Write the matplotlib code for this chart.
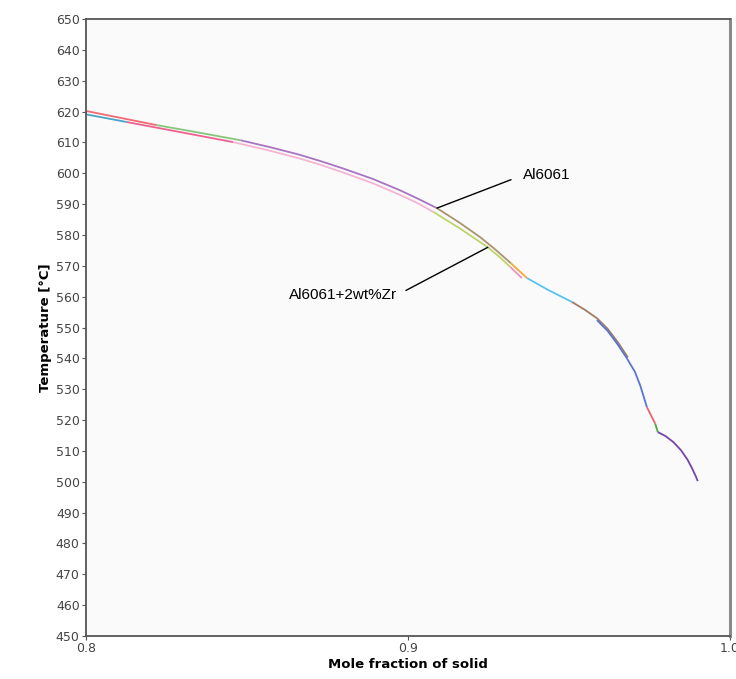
import matplotlib
matplotlib.use("Agg")
import matplotlib.pyplot as plt
import numpy as np

plt.rcParams["font.family"] = "DejaVu Sans"

# Al6061 solidification path (upper curve)
al_x = [0.800, 0.811, 0.822, 0.835, 0.848, 0.857, 0.866, 0.873, 0.880,
        0.889, 0.8975, 0.903, 0.909, 0.916, 0.9224, 0.927, 0.932, 0.937]
al_T = [620.2, 617.9, 615.6, 613.2, 610.7, 608.5, 606.1, 603.9, 601.5,
        598.2, 594.5, 591.8, 588.7, 584.0, 579.3, 575.4, 570.8, 566.0]
al_breaks = [0.822, 0.848, 0.909, 0.932]

# Al6061+2wt%Zr (lower curve)
zr_x = [0.800, 0.8127, 0.829, 0.8457, 0.856, 0.866, 0.873, 0.880, 0.889,
        0.8975, 0.903, 0.908, 0.916, 0.9248, 0.9285, 0.9318, 0.9354]
zr_T = [619.1, 616.6, 613.4, 610.1, 607.6, 604.9, 602.7, 600.2, 596.8,
        593.0, 590.3, 587.4, 582.2, 576.0, 572.8, 569.6, 566.0]
zr_breaks = [0.8127, 0.8457, 0.908, 0.9318]

# common part after the two paths meet
tail_x = [0.937, 0.9435, 0.9509, 0.9550, 0.9587, 0.9620, 0.9652, 0.9683]
tail_T = [566.0, 562.2, 558.3, 555.7, 553.0, 549.6, 545.2, 540.3]
tail_breaks = [0.9509]

end_x = [0.9587, 0.9620, 0.9652, 0.9680, 0.9705, 0.9722, 0.9742, 0.9768,
         0.9776, 0.9800, 0.9825, 0.9848, 0.9868, 0.9884, 0.9895, 0.9900]
end_T = [552.4, 548.9, 544.4, 540.0, 535.6, 531.0, 524.2, 518.8,
         516.1, 514.8, 512.8, 510.2, 507.2, 504.0, 501.5, 500.2]
end_breaks = [0.9742, 0.9768, 0.9776]

al_colors = ["#f26a72", "#86c67c", "#a874c4", "#a8946e", "#f2aa3a"]
zr_colors = ["#4aa3c8", "#f0608e", "#f7b4d2", "#bcd468", "#f290c4"]
tail_colors = ["#58c4ee", "#a07c64"]
end_colors = ["#5a74d2", "#e8646e", "#4ea640", "#7446a8"]


def draw_path(ax, xs, ts, breaks, colors, lw=1.3):
    xs = np.array(xs)
    ts = np.array(ts)
    edges = [xs[0]] + list(breaks) + [xs[-1]]
    for i, c in enumerate(colors):
        m = (xs >= edges[i] - 1e-9) & (xs <= edges[i + 1] + 1e-9)
        ax.plot(xs[m], ts[m], color=c, linewidth=lw, solid_capstyle="butt",
                solid_joinstyle="round")


fig = plt.figure(figsize=(7.36, 6.79), dpi=100)
fig.patch.set_facecolor("white")
ax = fig.add_axes([0.1168, 0.0633, 0.8750, 0.9087])
ax.set_facecolor("#fafafa")

draw_path(ax, zr_x, zr_T, zr_breaks, zr_colors)
draw_path(ax, al_x, al_T, al_breaks, al_colors)
draw_path(ax, tail_x, tail_T, tail_breaks, tail_colors)
draw_path(ax, end_x, end_T, end_breaks, end_colors)

ax.set_xlim(0.8, 1.0)
ax.set_ylim(450, 650)
ax.set_xticks([0.8, 0.9, 1.0])
ax.set_xticklabels(["0.8", "0.9", "1.0"])
ax.set_yticks(np.arange(450, 651, 10))

for s in ["left", "bottom", "top"]:
    ax.spines[s].set_color("#555555")
    ax.spines[s].set_linewidth(1.3)
ax.spines["right"].set_color("#8a8a8a")
ax.spines["right"].set_linewidth(2.2)

ax.tick_params(axis="both", direction="out", length=3, width=0.8,
               color="#555555", labelcolor="#444444", labelsize=9, pad=1.5)

ax.set_xlabel("Mole fraction of solid", fontsize=9.5, fontweight="bold",
              labelpad=2)
ax.set_ylabel("Temperature [\u00b0C]", fontsize=9.5, fontweight="bold",
              labelpad=3)

ax.annotate("Al6061", xy=(0.909, 588.7), xytext=(0.9357, 599.4),
            ha="left", va="center", fontsize=11, family="Liberation Sans",
            arrowprops=dict(arrowstyle="-", color="black", lw=1.0,
                            relpos=(0, 0.5), shrinkA=7, shrinkB=0))
ax.annotate("Al6061+2wt%Zr", xy=(0.9248, 576.0), xytext=(0.8966, 560.5),
            ha="right", va="center", fontsize=11, family="Liberation Sans",
            arrowprops=dict(arrowstyle="-", color="black", lw=1.0,
                            relpos=(1, 0.5), shrinkA=5, shrinkB=0))

plt.savefig("out.png", dpi=100)
